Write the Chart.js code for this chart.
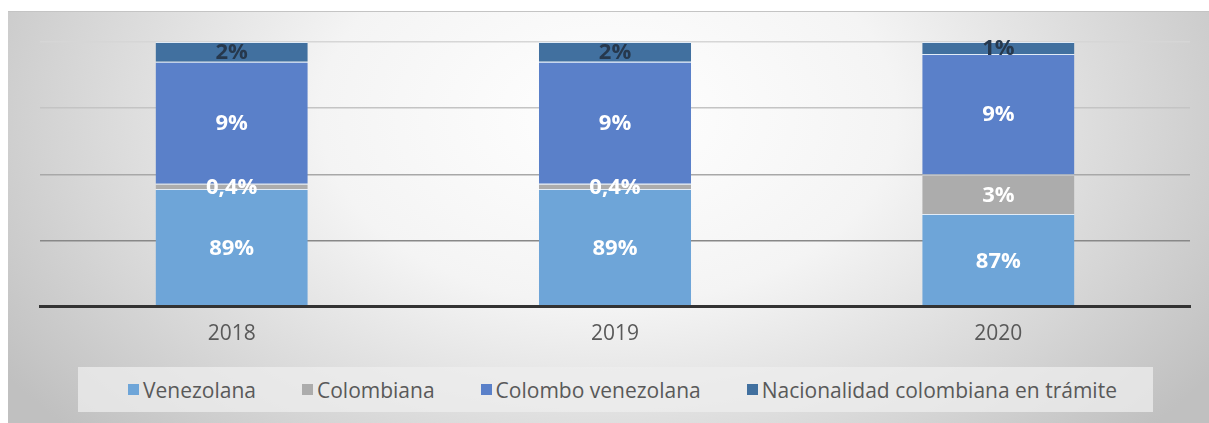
<!DOCTYPE html>
<html>
<head>
<meta charset="utf-8">
<script src="https://cdn.jsdelivr.net/npm/chart.js@4/dist/chart.umd.min.js"></script>
<style>
  html, body { margin: 0; padding: 0; background: #fff; }
  body { width: 1209px; height: 423px; position: relative; overflow: hidden; font-family: "Open Sans", sans-serif; }
  #frame {
    position: absolute; left: 8px; top: 11px; width: 1201px; height: 412px;
    border-top: 1px solid #c4c4c4;
    background: radial-gradient(ellipse 60% 115% at 50% 25%, #ffffff 0%, #f4f4f4 40%, #d6d6d6 75%, #c0c0c0 100%);
  }
  #chart-box { position: absolute; left: 0; top: 0; width: 1201px; height: 350px; }
  #legend {
    position: absolute; left: 70px; top: 355px; width: 1075px; height: 45px;
    background: rgba(238, 238, 238, 0.75);
    display: flex; align-items: center; padding-left: 50px; box-sizing: border-box;
  }
  .item { display: flex; align-items: center; margin-right: 46px; font-size: 21px; color: #595959; white-space: nowrap; }
  .sw { width: 11px; height: 11px; margin-right: 4px; }
</style>
</head>
<body>
<div id="frame">
  <div id="chart-box"><canvas id="chart"></canvas></div>
  <div id="legend"></div>
</div>
<script>
const years = ['2018', '2019', '2020'];
const seriesNames = ['Venezolana', 'Colombiana', 'Colombo venezolana', 'Nacionalidad colombiana en trámite'];
const venezolana = [0.889, 0.889, 0.870];
const colombiana = [0.004, 0.004, 0.030];
const colomboVenezolana = [0.092, 0.092, 0.091];
const enTramite = [0.015, 0.015, 0.009];
const seriesColors = ['#6ea5d8', '#acacac', '#5a80c9', '#41709f'];
const labelColors = ['#ffffff', '#ffffff', '#ffffff', '#26384d'];

function pctLabel(v) {
    const p = v * 100;
    if (p < 0.5) return p.toFixed(1).replace('.', ',') + '%';
    return Math.round(p) + '%';
}

// legend built in html
const legendEl = document.getElementById('legend');
seriesNames.forEach(function (name, i) {
    const item = document.createElement('div');
    item.className = 'item';
    item.innerHTML = '<span class="sw" style="background:' + seriesColors[i] + '"></span>' + name;
    legendEl.appendChild(item);
});

// draws the percentage inside each segment
const segmentLabels = {
    id: 'segmentLabels',
    afterDatasetsDraw(chart) {
        const ctx = chart.ctx;
        const area = chart.chartArea;
        ctx.save();
        ctx.font = 'bold 22px "Open Sans"';
        ctx.textAlign = 'center';
        ctx.textBaseline = 'middle';
        chart.data.datasets.forEach(function (ds, di) {
            const meta = chart.getDatasetMeta(di);
            meta.data.forEach(function (bar, i) {
                const p = bar.getProps(['x', 'y', 'base'], true);
                const bottom = Math.min(p.base, area.bottom);
                const top = Math.max(p.y, area.top);
                ctx.fillStyle = labelColors[di];
                ctx.fillText(pctLabel(ds.data[i]), p.x, (top + bottom) / 2 + 1);
            });
        });
        ctx.restore();
    }
};

const gridColors = ['rgba(0,0,0,0)', '#888888', '#a8a8a8', '#c4c4c4', '#d6d6d6'];

const datasets = [venezolana, colombiana, colomboVenezolana, enTramite].map(function (values, i) {
    return {
        label: seriesNames[i],
        data: values,
        backgroundColor: seriesColors[i],
        borderColor: 'rgba(225, 236, 248, 0.9)',
        borderWidth: { top: 1, left: 0, right: 0, bottom: 0 },
        borderSkipped: false,
        barPercentage: 1,
        categoryPercentage: 0.397
    };
});

new Chart(document.getElementById('chart'), {
    type: 'bar',
    data: { labels: years, datasets: datasets },
    options: {
        responsive: true,
        maintainAspectRatio: false,
        animation: false,
        layout: { padding: { left: 32, right: 19, top: 30, bottom: 0 } },
        plugins: {
            legend: { display: false },
            tooltip: { enabled: false }
        },
        scales: {
            x: {
                stacked: true,
                grid: { display: false, drawTicks: false },
                border: { display: true, color: '#333333', width: 3, z: 1 },
                ticks: { color: '#595959', padding: 15, font: { family: 'Open Sans', size: 21 } }
            },
            y: {
                stacked: true,
                min: 0.8,
                max: 1.0,
                grid: {
                    drawTicks: false,
                    lineWidth: 1.5,
                    color: function (c) { return gridColors[c.index] || '#d6d6d6'; }
                },
                border: { display: false },
                ticks: { display: false, stepSize: 0.05 }
            }
        }
    },
    plugins: [segmentLabels]
});
</script>
</body>
</html>
